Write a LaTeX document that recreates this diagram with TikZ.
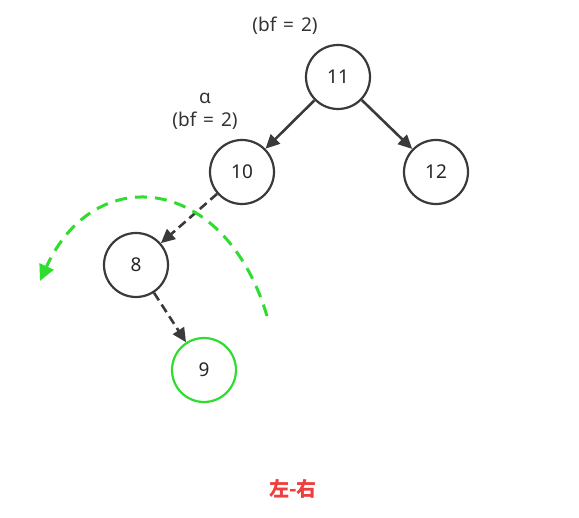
\documentclass[tikz,border=0pt]{standalone}
\usepackage{fontspec}
\setmainfont{Noto Sans}
\newfontfamily\cjk{Noto Sans CJK SC}
\usetikzlibrary{arrows.meta}
\definecolor{edgec}{HTML}{3A3A3A}
\definecolor{greenc}{HTML}{2EDD2E}
\definecolor{redc}{HTML}{EE3E3E}
\begin{document}
\begin{tikzpicture}[x=1pt,y=-1pt,
  tnode/.style={circle,draw=edgec,line width=2.2pt,minimum size=64pt,inner sep=0pt,font=\fontsize{19}{22}\selectfont,text=black!85},
  gnode/.style={tnode,draw=greenc},
  edge/.style={draw=edgec,line width=2.6pt,-{Triangle[length=14pt,width=13pt]}},
  dedge/.style={edge,dash pattern=on 9pt off 5pt},
  lbl/.style={font=\fontsize{19}{22}\selectfont,text=black!80,inner sep=0pt}]
\useasboundingbox (0,0) rectangle (579,518);
\node[tnode] (n11) at (338,77) {11};
\node[tnode] (n10) at (242,172) {10};
\node[tnode] (n12) at (436,172) {12};
\node[tnode] (n8) at (136,265) {8};
\node[gnode] (n9) at (204,370) {9};
\node[lbl] (l11) at (285,26) {(bf\hspace{2pt} = \hspace{2pt}2)};
\node[lbl] (la) at (205,98) {α};
\node[lbl] (l10) at (205,121) {(bf\hspace{2pt} = \hspace{2pt}2)};
\draw[edge] (n11) -- (n10);
\draw[edge] (n11) -- (n12);
\draw[dedge] (n10) -- (n8);
\draw[dedge] (n8) -- (n9);
\coordinate (gs) at (267,316);
\coordinate (ge) at (40,281);
\draw[greenc,line width=3pt,dash pattern=on 12pt off 8pt,-{Triangle[length=16pt,width=15pt]}]
  (gs) .. controls (225,175) and (95,160) .. (ge);
\node[font=\cjk\bfseries\fontsize{20}{22}\selectfont,text=redc] (title) at (293,489) {左-右};
\end{tikzpicture}
\end{document}
